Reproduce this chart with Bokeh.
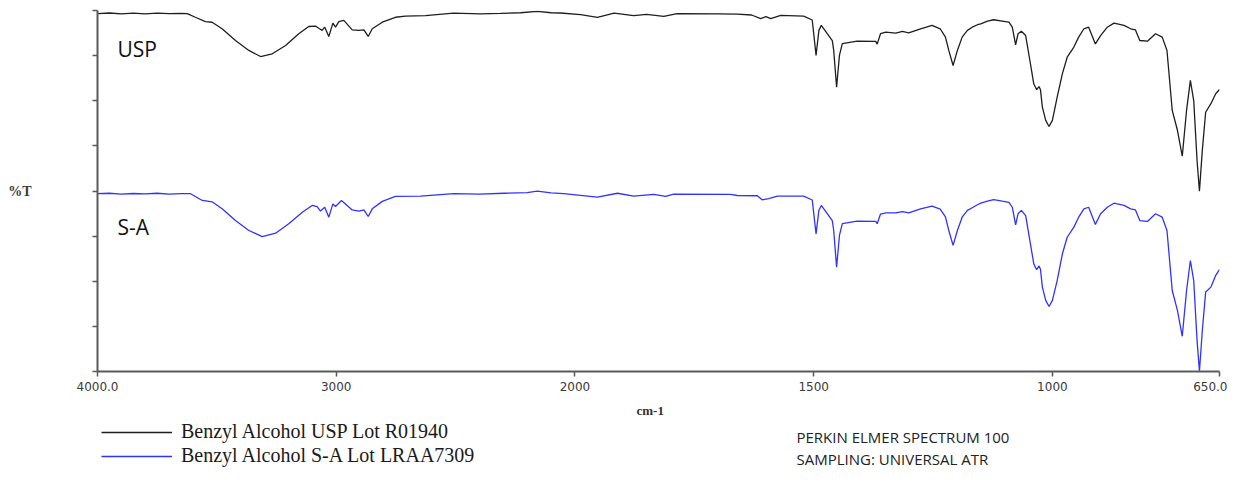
import numpy as np
from bokeh.plotting import figure
from bokeh.layouts import column
from bokeh.models import Range1d, FixedTicker, Label, Legend, LegendItem
from bokeh.embed import file_html
from bokeh.resources import INLINE

# ---------------- data (wavenumber cm-1, displayed %T in axis units) ----------------
usp_wn = [4000, 3950, 3900, 3850, 3800, 3750, 3700, 3650, 3624, 3590, 3548, 3520, 3478,
          3422, 3366, 3317, 3268, 3212, 3157, 3115, 3087, 3070, 3059, 3048, 3031, 3014,
          3003, 2989, 2968, 2933, 2905, 2884, 2866, 2849, 2807, 2752, 2710, 2626, 2509,
          2396, 2312, 2228, 2158, 2100, 2060, 1988, 1953, 1918, 1877, 1850, 1814, 1786,
          1700, 1660, 1630, 1611, 1600, 1590, 1569, 1521, 1503, 1495, 1489, 1484, 1461,
          1458, 1452, 1446, 1440, 1409, 1370, 1367, 1360, 1349, 1328, 1314, 1301, 1276,
          1252, 1235, 1224, 1217, 1208, 1199, 1189, 1178, 1168, 1157, 1150, 1136, 1123,
          1105, 1091, 1084, 1077, 1072, 1065, 1056, 1046, 1039, 1033, 1028, 1025, 1021,
          1014, 1007, 1000, 990, 979, 969, 955, 945, 934, 924, 910, 899, 885, 871, 850,
          836, 826, 817, 801, 784, 770, 760, 749, 738, 728, 719, 711, 704, 697, 692, 686,
          679, 668, 658, 650]
usp_t = [158.6, 158.9, 158.5, 158.8, 158.5, 158.8, 158.6, 158.7, 158.6, 157.0, 155.1, 154.8, 151.9,
         146.7, 142.3, 139.6, 140.8, 144.5, 149.7, 152.9, 153.1, 151.9, 151.2, 152.6, 148.5, 154.4,
         152.6, 155.1, 155.6, 151.4, 151.2, 151.4, 148.5, 151.9, 154.8, 157.0, 157.5, 157.7, 158.8,
         158.5, 158.7, 159.0, 159.6, 159.0, 158.9, 158.2, 157.0, 158.8, 157.7, 158.3, 157.4, 158.6,
         158.5, 158.4, 158.0, 156.4, 157.3, 156.4, 157.8, 157.5, 155.8, 140.1, 151.2, 153.4, 146.7,
         142.3, 126.0, 140.1, 145.3, 146.4, 146.3, 145.1, 149.7, 150.4, 150.0, 150.8, 150.1, 151.9,
         153.4, 151.9, 148.2, 142.3, 135.6, 142.3, 148.2, 151.2, 152.6, 153.7, 154.1, 155.3, 155.9,
         155.3, 154.8, 152.6, 144.8, 149.7, 150.8, 148.9, 136.4, 127.5, 124.9, 126.3, 124.9, 117.2,
         111.3, 108.6, 111.3, 121.6, 132.0, 139.3, 143.8, 148.2, 151.9, 152.6, 145.2, 148.9, 152.6,
         154.4, 153.4, 151.9, 151.4, 146.7, 146.4, 149.7, 148.2, 142.3, 115.7, 106.8, 95.4, 115.7,
         129.0, 120.1, 93.5, 79.9, 98.0, 114.9, 118.7, 123.1, 125.0]

sa_wn = [4000, 3950, 3900, 3850, 3800, 3750, 3700, 3650, 3610, 3561, 3520, 3478, 3422, 3366,
         3310, 3254, 3199, 3142, 3101, 3080, 3066, 3048, 3031, 3014, 3003, 2978, 2933, 2905,
         2884, 2866, 2849, 2807, 2752, 2647, 2507, 2400, 2298, 2200, 2158, 2100, 2047, 1953,
         1911, 1877, 1835, 1810, 1793, 1674, 1660, 1618, 1608, 1594, 1576, 1521, 1503, 1495,
         1489, 1484, 1461, 1458, 1452, 1446, 1440, 1409, 1370, 1367, 1360, 1349, 1328, 1314,
         1301, 1276, 1252, 1235, 1224, 1217, 1208, 1199, 1189, 1178, 1168, 1157, 1150, 1136,
         1123, 1105, 1091, 1084, 1077, 1072, 1065, 1056, 1046, 1039, 1033, 1028, 1025, 1021,
         1014, 1007, 1000, 990, 979, 969, 955, 945, 934, 924, 910, 899, 885, 871, 850, 836,
         826, 817, 801, 784, 770, 760, 749, 738, 728, 719, 711, 704, 697, 692, 686, 679, 668,
         658, 650]
sa_t = [78.8, 79.0, 78.6, 78.9, 78.7, 79.0, 78.6, 78.8, 78.8, 75.8, 75.2, 72.1, 66.9, 62.5,
        59.8, 61.3, 65.5, 70.6, 73.6, 73.1, 71.1, 72.8, 68.4, 74.3, 73.1, 75.8, 71.6, 71.1,
        71.6, 68.7, 72.1, 75.4, 77.6, 77.7, 78.8, 78.6, 79.0, 79.3, 79.9, 79.2, 78.8, 77.3,
        79.0, 77.7, 78.5, 77.6, 78.6, 78.5, 78.0, 77.9, 76.1, 76.6, 77.7, 77.7, 76.0, 61.0,
        71.5, 73.6, 66.9, 62.5, 46.2, 60.3, 65.5, 66.6, 66.5, 65.5, 69.8, 70.3, 70.3, 70.9,
        70.3, 72.1, 73.3, 72.0, 68.5, 62.5, 55.9, 62.5, 68.4, 71.4, 72.6, 73.9, 74.6, 75.5,
        76.2, 75.5, 75.0, 72.8, 65.0, 69.9, 71.4, 69.1, 56.6, 47.7, 45.1, 46.8, 45.3, 37.4,
        31.5, 28.8, 31.5, 40.3, 52.2, 59.5, 64.0, 68.4, 72.1, 72.8, 65.2, 69.9, 72.8, 74.6,
        73.6, 72.1, 71.6, 66.9, 66.5, 69.9, 68.4, 62.5, 35.9, 27.0, 15.6, 35.9, 49.2, 40.3,
        13.7, 0.1, 18.2, 35.2, 37.4, 42.6, 45.2]

x_tick_wn = [4000, 3000, 2000, 1500, 1000, 650]
x_tick_labels = ["4000.0", "3000", "2000", "1500", "1000", "650.0"]
y_ticks = [0, 20, 40, 60, 80, 100, 120, 140, 160]

series_names = ["Benzyl Alcohol USP Lot R01940", "Benzyl Alcohol S-A Lot LRAA7309"]
series_colors = ["#1e1e1e", "#3232ff"]
trace_tags = ["USP", "S-A"]
info_lines = ["PERKIN ELMER SPECTRUM  100", "SAMPLING:  UNIVERSAL ATR"]


def axis_pos(wn):
    """Split-scale IR abscissa: 4000-2000 cm-1 compressed 2x relative to 2000-650."""
    wn = np.asarray(wn, dtype=float)
    return np.where(wn >= 2000, 4000 - wn, 2000 + 2 * (2000 - wn))


W = 1227
H1 = 400
H2 = 67
LEFT = 97

# ---------------- main spectrum plot ----------------
p = figure(width=W, height=H1,
           x_range=Range1d(0, 4700), y_range=Range1d(0, 160),
           output_backend="svg", toolbar_location=None,
           min_border_left=LEFT, min_border_right=8, min_border_top=10, min_border_bottom=29)
p.outline_line_color = None
p.grid.visible = False
p.background_fill_color = "white"
p.border_fill_color = "white"

r1 = p.line(axis_pos(usp_wn), usp_t, line_color=series_colors[0], line_width=1.3)
r2 = p.line(axis_pos(sa_wn), sa_t, line_color=series_colors[1], line_width=1.3)

# x axis
xt = [int(v) for v in axis_pos(x_tick_wn)]
p.xaxis.ticker = FixedTicker(ticks=xt)
p.xaxis.major_label_overrides = {k: lab for k, lab in zip(xt, x_tick_labels)}
p.xaxis.major_label_text_font = "DejaVu Sans"
p.xaxis.major_label_text_font_size = "12px"
p.xaxis.major_label_text_color = "#3a3a3a"
p.xaxis.major_label_standoff = 5

# y axis
p.yaxis.ticker = FixedTicker(ticks=y_ticks)
p.yaxis.major_label_text_font_size = "0px"
p.yaxis.major_label_text_color = None
p.yaxis.major_label_standoff = 0
p.yaxis.axis_label = "%T"
p.yaxis.axis_label_orientation = "horizontal"
p.yaxis.axis_label_standoff = 61
p.yaxis.axis_label_text_font = "Liberation Serif"
p.yaxis.axis_label_text_font_size = "14px"
p.yaxis.axis_label_text_font_style = "bold"
p.yaxis.axis_label_text_color = "#3a3a3a"

for ax in (p.xaxis[0], p.yaxis[0]):
    ax.axis_line_color = "#5a5a5a"
    ax.axis_line_width = 2
    ax.major_tick_line_color = "#5a5a5a"
    ax.major_tick_line_width = 1.5
    ax.major_tick_out = 5
    ax.major_tick_in = 0
    ax.minor_tick_line_color = None

# trace tags
p.add_layout(Label(x=20, y=323, x_units="screen", y_units="screen", text=trace_tags[0],
                   text_font="Open Sans", text_font_size="21px", text_color="#111111",
                   text_baseline="middle"))
p.add_layout(Label(x=20, y=145, x_units="screen", y_units="screen", text=trace_tags[1],
                   text_font="Open Sans", text_font_size="21px", text_color="#111111",
                   text_baseline="middle"))

# ---------------- footer: axis title, legend, instrument info ----------------
# (its frame is aligned with the main plot's frame, i.e. starts at x = LEFT)
f = figure(width=W, height=H2, x_range=Range1d(0, 1), y_range=Range1d(0, 1),
           output_backend="svg", toolbar_location=None,
           x_axis_location=None, y_axis_location=None,
           min_border_left=LEFT, min_border_right=8, min_border_top=0, min_border_bottom=0)
f.outline_line_color = None
f.grid.visible = False
f.background_fill_color = "white"
f.border_fill_color = "white"

# legend key holders (no visible data)
k1 = f.line([np.nan], [np.nan], line_color=series_colors[0], line_width=1.3)
k2 = f.line([np.nan], [np.nan], line_color=series_colors[1], line_width=1.3)

f.add_layout(Label(x=636 - LEFT, y=H2 - 10, x_units="screen", y_units="screen", text="cm-1",
                   text_font="Liberation Serif", text_font_size="13px", text_color="#333333",
                   text_font_style="bold", text_baseline="middle"))

f.add_layout(Label(x=796 - LEFT, y=H2 - 36, x_units="screen", y_units="screen", text=info_lines[0],
                   text_font="Open Sans", text_font_size="15px", text_color="#222222",
                   text_baseline="middle"))
f.add_layout(Label(x=796 - LEFT, y=H2 - 58, x_units="screen", y_units="screen", text=info_lines[1],
                   text_font="Open Sans", text_font_size="15px", text_color="#222222",
                   text_baseline="middle"))

legend = Legend(items=[LegendItem(label=series_names[0], renderers=[k1]),
                       LegendItem(label=series_names[1], renderers=[k2])],
                location=(101 - LEFT, 0), orientation="vertical",
                padding=0, margin=0, border_line_color=None, background_fill_alpha=0,
                glyph_width=71, glyph_height=22, label_height=22, label_standoff=9,
                spacing=1, label_text_font="Liberation Serif", label_text_font_size="20px",
                label_text_color="#1a1a1a")
f.add_layout(legend)

layout = column(p, f, spacing=0)
open("out.html", "w").write(file_html(layout, INLINE))
